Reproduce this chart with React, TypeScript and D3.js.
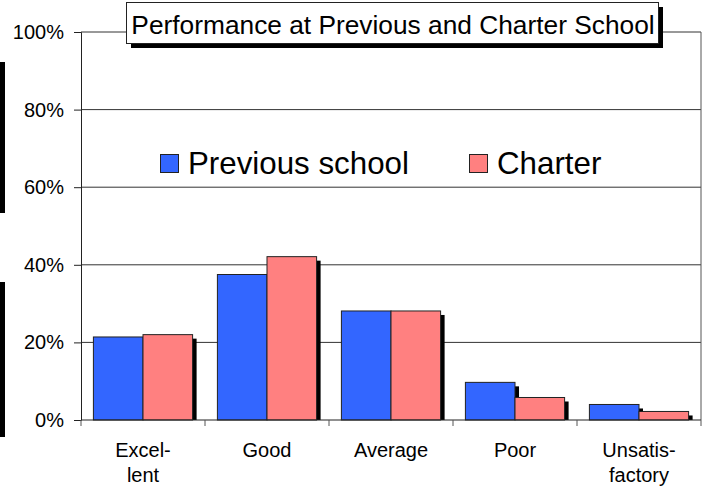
import React, { useEffect, useRef } from "react";
import * as d3 from "d3";

const categories = ["Excel-\nlent", "Good", "Average", "Poor", "Unsatis-\nfactory"];
const seriesNames = ["Previous school", "Charter"];
const previousSchool = [21.4, 37.5, 28.1, 9.7, 4.0];
const charter = [22.0, 42.1, 28.1, 5.8, 2.2];
const yTicks = [0, 20, 40, 60, 80, 100];
const colors = ["#3366ff", "#ff8080"];

const App = () => {
  const svgRef = useRef<SVGSVGElement>(null);

  useEffect(() => {
    const svg = d3.select(svgRef.current);
    svg.selectAll("*").remove();
    const font = "'Liberation Sans', Arial, sans-serif";

    const left = 81;
    const right = 701;
    const top = 32;
    const bottom = 420;

    const x = d3.scaleBand().domain(categories).range([left, right]).paddingInner(0.2).paddingOuter(0.1);
    const xOuter = d3.scaleBand().domain(categories).range([left, right]);
    const y = d3.scaleLinear().domain([0, 100]).range([bottom, top]);
    const sub = d3.scaleBand().domain(seriesNames).range([0, x.bandwidth()]);

    // odd black bars at the far left
    svg.append("rect").attr("x", 0).attr("y", 62).attr("width", 5).attr("height", 151).attr("fill", "#000");
    svg.append("rect").attr("x", 0).attr("y", 282).attr("width", 5).attr("height", 155).attr("fill", "#000");

    // gridlines
    svg.append("g")
      .selectAll("line")
      .data(yTicks.filter((t) => t > 0))
      .join("line")
      .attr("x1", left)
      .attr("x2", right)
      .attr("y1", (d) => y(d))
      .attr("y2", (d) => y(d))
      .attr("stroke", "#333")
      .attr("stroke-width", 1);

    // right border
    svg.append("line").attr("x1", right).attr("x2", right).attr("y1", y(100)).attr("y2", bottom)
      .attr("stroke", "#555");

    // y axis
    const yAxis = svg.append("g").attr("transform", `translate(${left},0)`)
      .call(d3.axisLeft(y).tickValues(yTicks).tickFormat((d) => `${d}%`).tickSize(7).tickPadding(10));
    yAxis.select(".domain").attr("stroke", "#222");
    yAxis.selectAll("line").attr("stroke", "#222");
    yAxis.selectAll("text").attr("font-size", 20).attr("font-family", font).attr("fill", "#000");

    // bars
    const data = categories.map((c, i) => ({ c, vals: [previousSchool[i], charter[i]] }));
    const groups = svg.append("g").selectAll("g").data(data).join("g")
      .attr("transform", (d) => `translate(${x(d.c)},0)`);

    groups.each(function (d) {
      const g = d3.select(this);
      d.vals.forEach((v, j) => {
        const bx = sub(seriesNames[j])!;
        const w = sub.bandwidth();
        g.append("rect")
          .attr("x", bx + 4)
          .attr("y", y(v) + 4)
          .attr("width", w)
          .attr("height", bottom - y(v) - 4)
          .attr("fill", "#000");
      });
      d.vals.forEach((v, j) => {
        const bx = sub(seriesNames[j])!;
        g.append("rect")
          .attr("x", bx)
          .attr("y", y(v))
          .attr("width", sub.bandwidth())
          .attr("height", bottom - y(v))
          .attr("fill", colors[j])
          .attr("stroke", "#222")
          .attr("stroke-width", 1);
      });
    });

    // x axis
    svg.append("line").attr("x1", left).attr("x2", right).attr("y1", bottom).attr("y2", bottom).attr("stroke", "#222");
    const xTicks = [...categories.map((c) => xOuter(c)!), right];
    svg.append("g").selectAll("line").data(xTicks).join("line")
      .attr("x1", (d) => d).attr("x2", (d) => d)
      .attr("y1", bottom).attr("y2", bottom + 6)
      .attr("stroke", "#555");

    svg.append("g").selectAll("text").data(categories).join("text")
      .attr("x", (d) => xOuter(d)! + xOuter.bandwidth() / 2)
      .attr("y", 457)
      .attr("text-anchor", "middle")
      .attr("font-size", 20)
      .attr("font-family", font)
      .each(function (d) {
        const lines = d.split("\n");
        lines.forEach((l, k) => {
          d3.select(this).append("tspan")
            .attr("x", xOuter(d)! + xOuter.bandwidth() / 2)
            .attr("dy", k === 0 ? 0 : 25)
            .text(l);
        });
      });

    // title
    svg.append("rect").attr("x", 131).attr("y", 7).attr("width", 532).attr("height", 41).attr("fill", "#000");
    svg.append("rect").attr("x", 126.5).attr("y", 2.5).attr("width", 532).attr("height", 41)
      .attr("fill", "#fff").attr("stroke", "#222");
    svg.append("text").attr("x", 393).attr("y", 34).attr("text-anchor", "middle")
      .attr("font-size", 26.3).attr("font-family", font).text("Performance at Previous and Charter School");

    // legend
    const legendX = [160, 469];
    seriesNames.forEach((n, j) => {
      svg.append("rect").attr("x", legendX[j] + 0.5).attr("y", 154.5).attr("width", 18).attr("height", 18)
        .attr("fill", colors[j]).attr("stroke", "#222");
      svg.append("text").attr("x", legendX[j] + 28).attr("y", 174).attr("font-size", 31.3)
        .attr("font-family", font).text(n);
    });
  }, []);

  return <svg ref={svgRef} width={709} height={492} style={{ position: "absolute", left: 0, top: 0 }} />;
};

export default App;
